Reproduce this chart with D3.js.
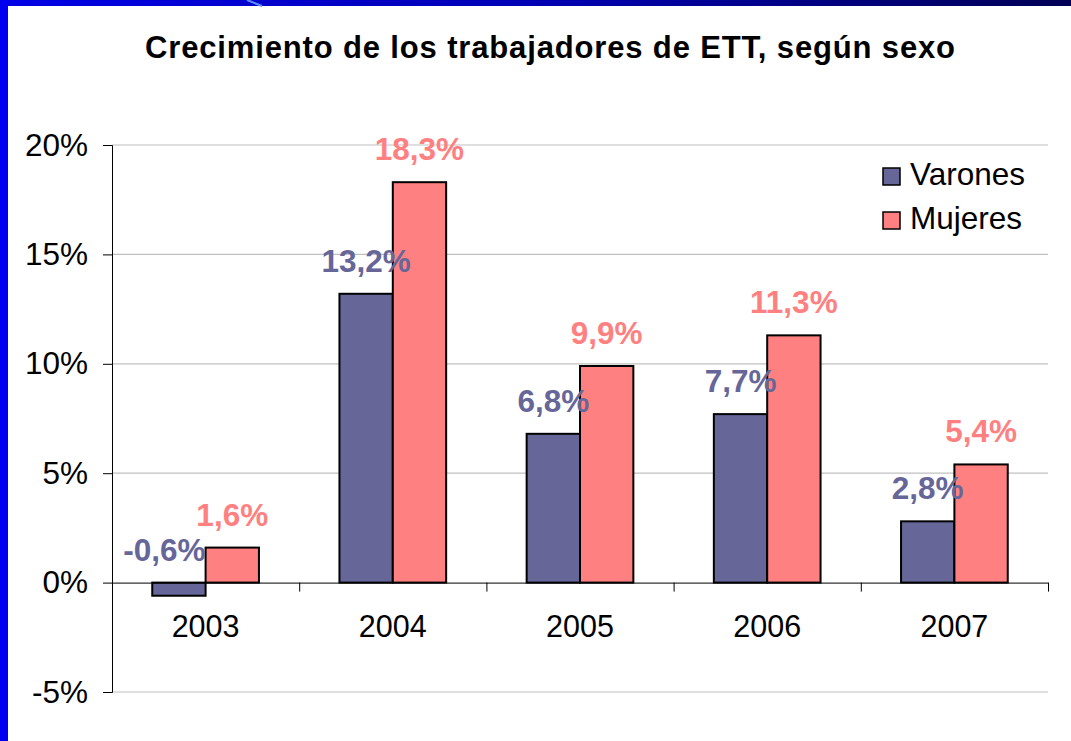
<!DOCTYPE html>
<html>
<head>
<meta charset="utf-8">
<script src="https://cdn.jsdelivr.net/npm/d3@7"></script>
<style>
  body { margin: 0; background: #fff; }
  svg { display: block; font-family: "Liberation Sans", Arial, sans-serif; }
</style>
</head>
<body>
<div id="chart"></div>
<script>
// data
const years = ['2003', '2004', '2005', '2006', '2007']
const varones = [-0.6, 13.2, 6.8, 7.7, 2.8]
const mujeres = [1.6, 18.3, 9.9, 11.3, 5.4]
const seriesNames = ['Varones', 'Mujeres']
const yTicks = [-5, 0, 5, 10, 15, 20]
const titleText = 'Crecimiento de los trabajadores de ETT, según sexo'

const colors = { Varones: '#666699', Mujeres: '#ff8080' }

const W = 1071, H = 741
// plot box
const plot = { left: 112, right: 1048, top: 145, bottom: 692 }

const svg = d3.select('#chart').append('svg')
  .attr('width', W).attr('height', H)

// slide frame: gradient bar on top, blue strip on the left
const defs = svg.append('defs')
const grad = defs.append('linearGradient').attr('id', 'topbar')
grad.append('stop').attr('offset', '0%').attr('stop-color', '#0000e6')
grad.append('stop').attr('offset', '50%').attr('stop-color', '#0000b4')
grad.append('stop').attr('offset', '100%').attr('stop-color', '#000055')
svg.append('rect').attr('x', 0).attr('y', 0).attr('width', W).attr('height', 6)
  .attr('fill', 'url(#topbar)')
svg.append('line').attr('x1', 247).attr('y1', 0).attr('x2', 262).attr('y2', 6)
  .attr('stroke', '#5b8cff').attr('stroke-width', 2)
svg.append('rect').attr('x', 0).attr('y', 0).attr('width', 8).attr('height', H)
  .attr('fill', '#0000f0')

// title
svg.append('text')
  .attr('x', 145).attr('y', 58)
  .attr('textLength', 810).attr('lengthAdjust', 'spacing')
  .attr('font-size', 31).attr('font-weight', 'bold').attr('fill', '#000')
  .text(titleText)

// scales
const y = d3.scaleLinear().domain([-5, 20]).range([plot.bottom, plot.top])
const x0 = d3.scaleBand().domain(years).range([plot.left, plot.right])
  .paddingInner(0.43).paddingOuter(0.215)
const x1 = d3.scaleBand().domain(seriesNames).range([0, x0.bandwidth()])
// category boundaries for the x ticks
const xb = d3.scaleLinear().domain([0, years.length]).range([plot.left, plot.right])

// percent with decimal comma and a plain hyphen
const fmtPct = v => v.toFixed(1).replace('.', ',') + '%'

// gridlines
svg.append('g')
  .selectAll('line')
  .data(yTicks.filter(d => d !== 0))
  .join('line')
  .attr('x1', plot.left).attr('x2', plot.right)
  .attr('y1', d => y(d)).attr('y2', d => y(d))
  .attr('stroke', '#c0c0c0').attr('stroke-width', 1.2)

// y axis
const yAxis = svg.append('g')
  .attr('transform', `translate(${plot.left},0)`)
  .call(d3.axisLeft(y).tickValues(yTicks).tickSize(9).tickPadding(15)
    .tickFormat(d => d + '%'))
yAxis.selectAll('text').attr('font-size', 31.5).attr('fill', '#000')
  .attr('font-family', '"Liberation Sans", Arial, sans-serif')
yAxis.select('.domain').attr('stroke', '#000')
yAxis.selectAll('.tick line').attr('stroke', '#000')

// bars
const rows = years.map((yr, i) => ({ year: yr, values: [
  { key: 'Varones', value: varones[i] },
  { key: 'Mujeres', value: mujeres[i] }
] }))

const groups = svg.append('g').selectAll('g')
  .data(rows)
  .join('g')
  .attr('transform', d => `translate(${x0(d.year)},0)`)

groups.selectAll('rect')
  .data(d => d.values)
  .join('rect')
  .attr('x', d => x1(d.key))
  .attr('width', x1.bandwidth())
  .attr('y', d => y(Math.max(0, d.value)))
  .attr('height', d => Math.abs(y(d.value) - y(0)))
  .attr('fill', d => colors[d.key])
  .attr('stroke', '#000').attr('stroke-width', 2)

// x axis (zero line) with ticks at category boundaries
const xAxis = svg.append('g')
  .attr('transform', `translate(0,${y(0)})`)
  .call(d3.axisBottom(xb).ticks(years.length).tickSize(9).tickSizeOuter(0)
    .tickFormat(''))
xAxis.select('.domain').attr('stroke', '#000')
xAxis.selectAll('.tick line').attr('stroke', '#000')

// category labels
svg.append('g').selectAll('text')
  .data(years)
  .join('text')
  .attr('x', d => x0(d) + x0.bandwidth() / 2)
  .attr('y', 637)
  .attr('text-anchor', 'middle')
  .attr('font-size', 30.5).attr('fill', '#000')
  .text(d => d)

// value labels
groups.selectAll('text.val')
  .data(d => d.values)
  .join('text')
  .attr('class', 'val')
  .attr('x', d => d.value < 0 ? x1(d.key) + x1.bandwidth() : x1(d.key) + x1.bandwidth() / 2)
  .attr('y', d => y(Math.max(0, d.value)) - 22)
  .attr('text-anchor', d => d.value < 0 ? 'end' : 'middle')
  .attr('font-size', 31.5).attr('font-weight', 'bold')
  .attr('fill', d => colors[d.key])
  .text(d => fmtPct(d.value))

// legend
const legend = svg.append('g').selectAll('g')
  .data(seriesNames)
  .join('g')
  .attr('transform', (d, i) => `translate(883,${168 + i * 44})`)
legend.append('rect')
  .attr('width', 17).attr('height', 17)
  .attr('fill', d => colors[d])
  .attr('stroke', '#000').attr('stroke-width', 1.5)
legend.append('text')
  .attr('x', 27).attr('y', 17)
  .attr('font-size', 31.5).attr('fill', '#000')
  .text(d => d)
</script>
</body>
</html>
